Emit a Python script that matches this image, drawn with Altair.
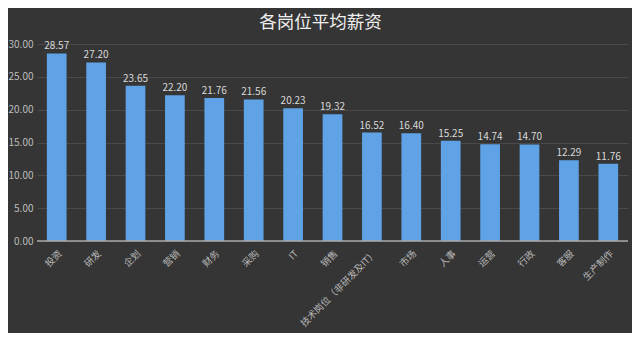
import altair as alt
import pandas as pd

categories = ["投资", "研发", "企划", "营销", "财务", "采购", "IT", "销售",
              "技术岗位（非研发及IT）", "市场", "人事", "运营", "行政", "客服", "生产制作"]
values = [28.57, 27.20, 23.65, 22.20, 21.76, 21.56, 20.23, 19.32,
          16.52, 16.40, 15.25, 14.74, 14.70, 12.29, 11.76]
y_ticks = [0, 5, 10, 15, 20, 25, 30]

df = pd.DataFrame({"岗位": categories, "薪资": values})
FONT = "Noto Sans CJK SC"

x = alt.X("岗位:N", sort=categories,
          scale=alt.Scale(paddingInner=0.5, paddingOuter=0.25),
          axis=alt.Axis(title=None, labelAngle=-45, labelColor="#b8b8b8",
                        labelFontSize=9.5, labelFont=FONT, ticks=False,
                        domain=False, labelPadding=7))
y_axis = alt.Axis(title=None, values=y_ticks, format=".2f",
                  labelColor="#bdbdbd", labelFontSize=10, labelFont=FONT,
                  labelOverlap=False, ticks=False, domain=False,
                  gridColor="#4a4a4a", gridWidth=1, labelPadding=4)
y_scale = alt.Scale(domain=[0, 30])
y = alt.Y("薪资:Q", scale=y_scale, axis=y_axis)

bars = alt.Chart(df).mark_bar(color="#5fa3e6").encode(x=x, y=y)
labels = alt.Chart(df).mark_text(dy=-7, color="#d9d9d9", fontSize=10, font=FONT).encode(
    x=x, y=y, text=alt.Text("薪资:Q", format=".2f"))
base_df = pd.DataFrame({"薪资": [0]})
baseline = alt.Chart(base_df).mark_rule(color="#a8a8a8", strokeWidth=1.5).encode(y=y)

chart = alt.layer(bars, labels, baseline).properties(
    width=591, height=197,
    title=alt.TitleParams("各岗位平均薪资", color="#f0f0f0", fontSize=17.5, font=FONT,
                          fontWeight="normal", offset=8, dx=-12),
    background="#353535",
    autosize=alt.AutoSizeParams(type="none"),
    padding={"left": 29, "top": 36, "right": 4, "bottom": 92},
).configure_view(stroke=None)

chart.save("out.html", embed_options={"renderer": "svg", "actions": False})
